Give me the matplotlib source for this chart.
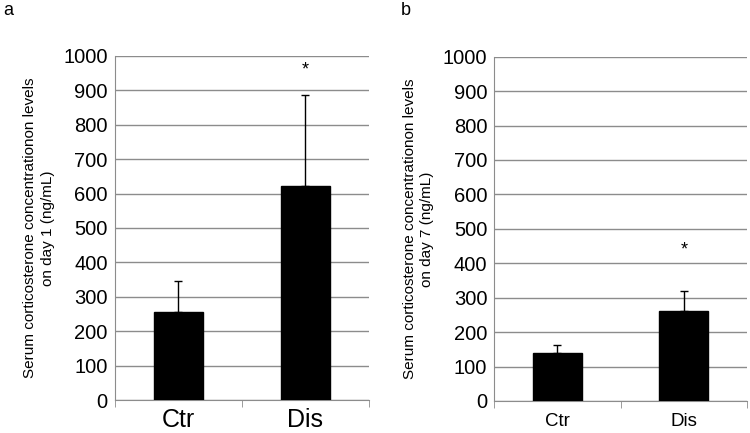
import matplotlib.pyplot as plt
import numpy as np

plt.rcParams['font.family'] = ['Liberation Sans', 'DejaVu Sans']

groups = ["Ctr", "Dis"]
day1_mean = [255, 622]
day1_err = [90, 265]
day7_mean = [140, 262]
day7_err = [23, 58]
star_a = 959
star_b = 440

fig = plt.figure(figsize=(7.5, 4.33), dpi=100)
ax1 = fig.add_axes([0.153, 0.076, 0.339, 0.795])
ax2 = fig.add_axes([0.659, 0.074, 0.337, 0.795])

panels = [
    (ax1, day1_mean, day1_err, star_a, "on day 1 (ng/mL)", 18, 6),
    (ax2, day7_mean, day7_err, star_b, "on day 7 (ng/mL)", 13.5, 9),
]

x = np.arange(len(groups))
for ax, mean, err, star, line2, xfs, xpad in panels:
    ax.bar(x, mean, width=0.39, color="black", edgecolor="black", zorder=3)
    ax.errorbar(x, mean, yerr=[np.zeros(len(mean)), err], fmt="none",
                ecolor="black", elinewidth=1, capsize=3, capthick=1, zorder=2)
    ax.text(x[1], star, "*", ha="center", va="center", fontsize=13)
    ax.set_xlim(-0.5, 1.5)
    ax.set_ylim(0, 1000)
    ax.set_yticks(np.arange(0, 1001, 100))
    ax.yaxis.grid(True, color="#8c8c8c", linewidth=1)
    ax.set_axisbelow(True)
    for s in ["top", "right"]:
        ax.spines[s].set_visible(False)
    for s in ["left", "bottom"]:
        ax.spines[s].set_color("#8c8c8c")
    ax.tick_params(axis="y", length=0, labelsize=14.5, pad=5)
    ax.set_xticks(x)
    ax.set_xticklabels(groups, fontsize=xfs)
    ax.tick_params(axis="x", length=0, pad=xpad)
    ax.set_xticks([-0.5, 0.5, 1.5], minor=True)
    ax.tick_params(axis="x", which="minor", length=5, color="#8c8c8c")
    ax.set_ylabel("Serum corticosterone concentrationon levels\n" + line2,
                  fontsize=11, linespacing=1.35, labelpad=6)

fig.text(0.005, 0.975, "a", fontsize=13, va="center")
fig.text(0.535, 0.975, "b", fontsize=13, va="center")

fig.savefig("out.png", dpi=100)
